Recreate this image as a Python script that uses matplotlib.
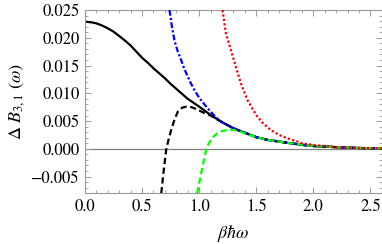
import matplotlib
matplotlib.use("Agg")
import matplotlib.pyplot as plt
import numpy as np

plt.rcParams['font.family'] = ['STIXGeneral', 'DejaVu Serif']
plt.rcParams['mathtext.fontset'] = 'stix'

# exact curve (solid black)
x_exact = [0.0, 0.05, 0.1, 0.15, 0.2, 0.25, 0.3, 0.35, 0.4, 0.45, 0.5, 0.55, 0.6,
           0.65, 0.7, 0.75, 0.8, 0.85, 0.9, 0.95, 1.0, 1.1, 1.2, 1.3, 1.4, 1.5,
           1.6, 1.7, 1.8, 1.9, 2.0, 2.1, 2.2, 2.3, 2.4, 2.5, 2.6]
y_exact = [0.0229, 0.0228, 0.0226, 0.0222, 0.0217, 0.0211, 0.0203, 0.0195, 0.0186,
           0.0175, 0.0164, 0.0155, 0.0145, 0.0136, 0.0127, 0.0117, 0.0108, 0.0099,
           0.0090, 0.0083, 0.0076, 0.0061, 0.0048, 0.0037, 0.0029, 0.0021, 0.0016,
           0.0013, 0.0010, 0.0007, 0.0005, 0.0004, 0.0003, 0.0002, 0.00015, 0.0001,
           0.00008]

# black dashed approximation
x_bd = [0.668, 0.69, 0.711, 0.73, 0.755, 0.78, 0.813, 0.85, 0.886, 0.92, 0.958,
        1.0, 1.05, 1.1, 1.2, 1.3, 1.4, 1.5, 1.6, 1.8, 2.0, 2.2, 2.4, 2.6]
y_bd = [-0.008, -0.0038, -0.0002, 0.0015, 0.0034, 0.0050, 0.0067, 0.0074, 0.0076,
        0.0076, 0.0073, 0.0069, 0.0064, 0.0060, 0.0048, 0.0037, 0.0029, 0.0021,
        0.0016, 0.0010, 0.0005, 0.0003, 0.00015, 0.00008]

# blue dash-dot approximation
x_blue = [0.74, 0.76, 0.784, 0.81, 0.842, 0.87, 0.90, 0.93, 0.958, 1.0, 1.05, 1.1,
          1.15, 1.2, 1.3, 1.4, 1.5, 1.6, 1.8, 2.0, 2.2, 2.4, 2.6]
y_blue = [0.025, 0.0222, 0.0195, 0.0177, 0.0160, 0.0144, 0.0130, 0.0117, 0.0106,
          0.0092, 0.0079, 0.0067, 0.0056, 0.0048, 0.0037, 0.0029, 0.0021, 0.0016,
          0.0010, 0.0005, 0.0003, 0.00015, 0.00008]

# green dashed approximation
x_green = [0.982, 1.0, 1.03, 1.06, 1.08, 1.10, 1.13, 1.16, 1.20, 1.25, 1.30, 1.35,
           1.40, 1.5, 1.6, 1.8, 2.0, 2.2, 2.4, 2.6]
y_green = [-0.008, -0.0062, -0.0032, -0.0002, 0.0008, 0.0015, 0.0023, 0.0028,
           0.0032, 0.0034, 0.0034, 0.0032, 0.0028, 0.0021, 0.0016, 0.0010, 0.0005,
           0.0003, 0.00015, 0.00008]

# red dotted approximation
x_red = [1.205, 1.234, 1.278, 1.321, 1.365, 1.423, 1.47, 1.51, 1.56, 1.626, 1.7,
         1.771, 1.85, 1.9, 2.0, 2.1, 2.2, 2.3, 2.4, 2.6]
y_red = [0.025, 0.0208, 0.0178, 0.0148, 0.0118, 0.0088, 0.0071, 0.0058, 0.0046,
         0.0034, 0.0025, 0.0019, 0.0014, 0.0010, 0.0007, 0.0005, 0.0003, 0.0002,
         0.00015, 0.0001]

xticks = [0.0, 0.5, 1.0, 1.5, 2.0, 2.5]
xlabels = ['0.0', '0.5', '1.0', '1.5', '2.0', '2.5']
yticks = [-0.005, 0.0, 0.005, 0.010, 0.015, 0.020, 0.025]
ylabels = ['\u22120.005', '0.000', '0.005', '0.010', '0.015', '0.020', '0.025']

fig = plt.figure(figsize=(3.82, 2.44), dpi=100)
ax = fig.add_axes([0.2225, 0.208, 0.777, 0.751])

ax.axhline(0, color='#808080', lw=0.9, zorder=1)
lw = 1.6
ax.plot(x_exact, y_exact, color='black', lw=lw, zorder=2)
ax.plot(x_bd, y_bd, color='black', lw=lw, dashes=(2.8, 1.6), zorder=3)
ax.plot(x_blue, y_blue, color='#0000ff', lw=lw, dashes=(2.6, 1.0, 1.0, 1.0), zorder=3)
ax.plot(x_green, y_green, color='#00ff00', lw=lw, dashes=(2.8, 1.6), zorder=3)
ax.plot(x_red, y_red, color='#ff0000', lw=lw, dashes=(1.0, 1.0), zorder=4)

ax.set_xlim(0, 2.6)
ax.set_ylim(-0.008, 0.025)
ax.set_xticks(xticks)
ax.set_xticklabels(xlabels)
ax.set_yticks(yticks)
ax.set_yticklabels(ylabels)
ax.set_xticks(np.arange(0, 2.61, 0.1), minor=True)
ax.set_yticks(np.arange(-0.008, 0.0251, 0.001), minor=True)

for s in ax.spines.values():
    s.set_color('#999999')
    s.set_linewidth(0.8)
ax.tick_params(which='both', direction='in', top=True, right=True,
               color='#999999', labelsize=12, pad=4)
ax.tick_params(which='major', length=4, width=0.7)
ax.tick_params(which='minor', length=2, width=0.6)

ax.set_xlabel(r'$\beta\hbar\omega$', fontsize=13, labelpad=6)
ax.set_ylabel(r'$\Delta\ B_{3,1}\ (\omega)$', fontsize=13, labelpad=3)

fig.savefig('out.png', dpi=100)
